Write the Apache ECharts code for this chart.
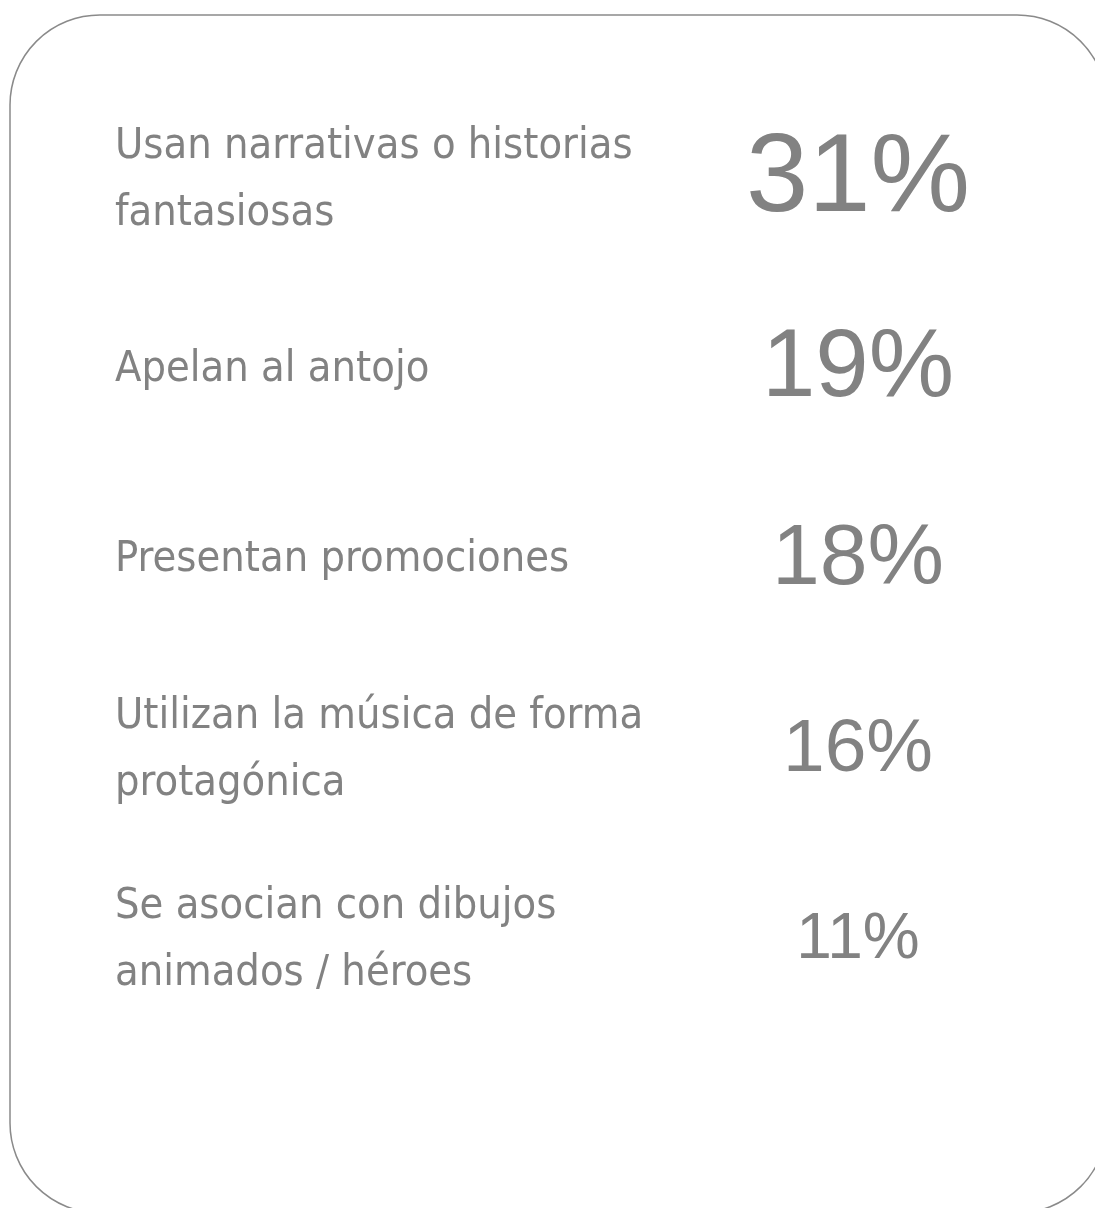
<!DOCTYPE html>
<html>
<head>
<meta charset="utf-8">
<script src="https://cdn.jsdelivr.net/npm/echarts@6/dist/echarts.min.js"></script>
<style>
  html, body { margin: 0; padding: 0; background: #fff; }
</style>
</head>
<body>
<div id="myChart" style="width:1095px;height:1208px;"></div>
<script>
// datos: motivos y porcentaje
var motivos = [
    "Usan narrativas o historias\nfantasiosas",
    "Apelan al antojo",
    "Presentan promociones",
    "Utilizan la música de forma\nprotagónica",
    "Se asocian con dibujos\nanimados / héroes"
];
var porcentajes = [31, 19, 18, 16, 11];

// tamaños de letra de los porcentajes (de mayor a menor)
var tamanos = [112, 96, 86, 75, 64];

var gris = "#828282";
var rich = {};
for (var i = 0; i < tamanos.length; i++) {
    rich["p" + i] = {
        fontSize: tamanos[i],
        fontFamily: "Liberation Sans",
        color: gris
    };
}

var chart = echarts.init(document.getElementById("myChart"));
chart.setOption({
    backgroundColor: "#fff",
    animation: false,
    graphic: [
        {
            type: "rect",
            shape: { x: 10, y: 15, width: 1097, height: 1198, r: 90 },
            style: { fill: "none", stroke: "#8a8a8a", lineWidth: 1.5 },
            silent: true
        }
    ],
    grid: {
        left: 115,
        right: 237,
        top: 85,
        bottom: 173
    },
    xAxis: {
        type: "value",
        show: false
    },
    yAxis: [
        {
            type: "category",
            position: "left",
            inverse: true,
            data: motivos,
            axisLine: { show: false },
            axisTick: { show: false },
            splitLine: { show: false },
            axisLabel: {
                interval: 0,
                align: "left",
                margin: 0,
                color: gris,
                fontSize: 43,
                lineHeight: 67,
                fontFamily: "DejaVu Sans Condensed, DejaVu Sans"
            }
        },
        {
            type: "category",
            position: "right",
            inverse: true,
            data: porcentajes,
            axisLine: { show: false },
            axisTick: { show: false },
            splitLine: { show: false },
            axisLabel: {
                interval: 0,
                align: "center",
                margin: 0,
                formatter: function (val, idx) {
                    return "{p" + idx + "|" + val + "%}";
                },
                rich: rich
            }
        }
    ],
    series: []
});
</script>
</body>
</html>
